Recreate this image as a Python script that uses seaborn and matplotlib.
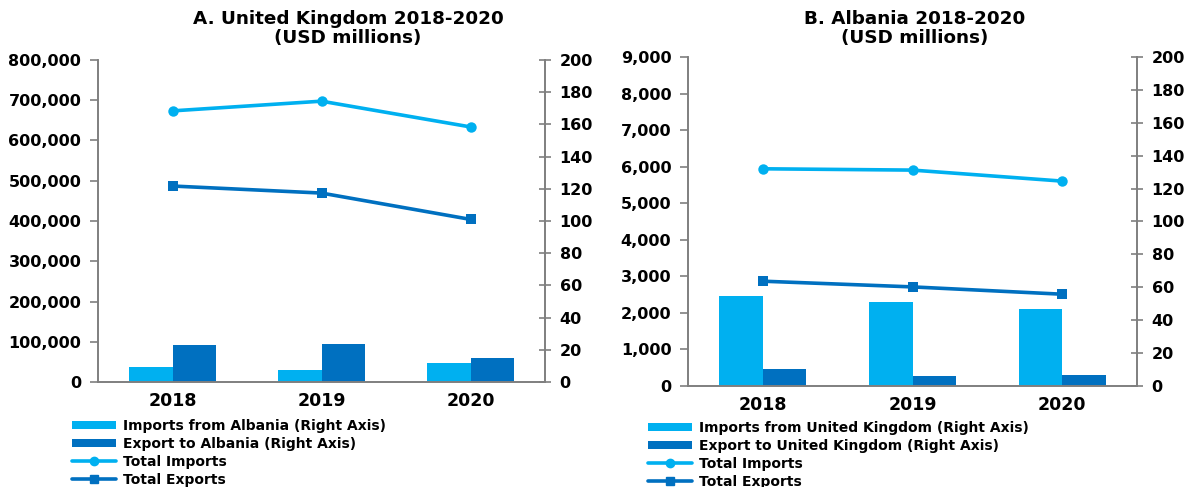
import numpy as np
import pandas as pd
import matplotlib
matplotlib.use("Agg")
import matplotlib.pyplot as plt
from matplotlib.patches import Patch
from matplotlib.lines import Line2D
from matplotlib.ticker import FuncFormatter, MultipleLocator
import seaborn as sns

years = ["2018", "2019", "2020"]

# Panel A: United Kingdom
uk_total_imports = [673600, 697700, 633700]
uk_total_exports = [486900, 469400, 404000]
uk_imports_from_albania = [9.1, 7.7, 11.8]
uk_exports_to_albania = [23.2, 23.7, 15.1]

# Panel B: Albania
al_total_imports = [5942, 5906, 5605]
al_total_exports = [2867, 2711, 2511]
al_imports_from_uk = [54.6, 50.9, 47.1]
al_exports_to_uk = [10.6, 6.3, 6.5]

LIGHT = "#00B0F0"
DARK = "#0070C0"
AXIS_GREY = "#7f7f7f"

sns.set_theme(style="white")
plt.rcParams["font.family"] = ["DejaVu Sans"]
plt.rcParams["font.weight"] = "bold"
plt.rcParams["text.color"] = "black"
plt.rcParams["xtick.color"] = "black"
plt.rcParams["ytick.color"] = "black"

fig = plt.figure(figsize=(11.9, 4.87), dpi=100)


def panel(rect, title, title_x, left_max, left_step, tot_imp, tot_exp,
          bar_imp, bar_exp, imp_label, exp_label, legend_x, legend_top):
    ax = fig.add_axes(rect)
    ax2 = ax.twinx()

    bars = pd.DataFrame({
        "Year": years * 2,
        "Value": bar_imp + bar_exp,
        "Series": [imp_label] * 3 + [exp_label] * 3,
    })
    sns.barplot(data=bars, x="Year", y="Value", hue="Series",
                hue_order=[imp_label, exp_label],
                palette={imp_label: LIGHT, exp_label: DARK},
                width=0.58, saturation=1, legend=False, ax=ax2,
                edgecolor="none")

    pos = np.arange(len(years))
    lines = pd.DataFrame({
        "pos": np.concatenate([pos, pos]),
        "Value": tot_imp + tot_exp,
        "Series": ["Total Imports"] * 3 + ["Total Exports"] * 3,
    })
    sns.lineplot(data=lines, x="pos", y="Value", hue="Series",
                 hue_order=["Total Imports", "Total Exports"],
                 palette={"Total Imports": LIGHT, "Total Exports": DARK},
                 style="Series",
                 markers={"Total Imports": "o", "Total Exports": "s"},
                 dashes=False, linewidth=2.6, markersize=7.5,
                 markeredgewidth=0, legend=False, ax=ax)

    ax.set_zorder(ax2.get_zorder() + 1)
    ax.patch.set_visible(False)

    ax.set_ylim(0, left_max)
    ax.yaxis.set_major_locator(MultipleLocator(left_step))
    ax.yaxis.set_major_formatter(FuncFormatter(lambda v, p: f"{int(v):,}"))
    ax2.set_ylim(0, 200)
    ax2.yaxis.set_major_locator(MultipleLocator(20))

    for a in (ax, ax2):
        a.set_xlim(-0.5, len(years) - 0.5)
        a.set_xlabel("")
        a.set_ylabel("")
        a.grid(False)
        for s in a.spines.values():
            s.set_color(AXIS_GREY)
            s.set_linewidth(1.2)
        a.spines["top"].set_visible(False)

    ax.set_xticks(np.arange(-0.5, len(years)), labels=[""] * (len(years) + 1))
    ax.set_xticks(pos, labels=years, minor=True)
    ax.tick_params(axis="x", which="major", direction="inout", length=9,
                   width=1.2, color=AXIS_GREY)
    ax.tick_params(axis="x", which="minor", length=0, pad=7, labelsize=12.5)
    ax.tick_params(axis="y", direction="out", length=6, width=1.2,
                   color=AXIS_GREY, labelsize=11.5, pad=6, left=True)
    ax2.tick_params(axis="y", direction="inout", length=9, width=1.2,
                    color=AXIS_GREY, labelsize=11.5, pad=6, right=True)
    ax2.tick_params(axis="x", length=0)
    for lbl in ax.get_xticklabels(minor=True) + ax.get_yticklabels() + ax2.get_yticklabels():
        lbl.set_fontweight("bold")

    fig.text(title_x, 1 - 10 / 487, title, ha="center", va="top",
             fontsize=13.2, fontweight="bold", linespacing=1.05)

    handles = [
        Patch(facecolor=LIGHT, edgecolor="none", label=imp_label),
        Patch(facecolor=DARK, edgecolor="none", label=exp_label),
        Line2D([], [], color=LIGHT, lw=2.6, marker="o", markersize=6,
               label="Total Imports"),
        Line2D([], [], color=DARK, lw=2.6, marker="s", markersize=6,
               label="Total Exports"),
    ]
    fig.legend(handles=handles, loc="upper left",
               bbox_to_anchor=(legend_x, 1 - legend_top / 487), frameon=False,
               prop={"weight": "bold", "size": 10}, handlelength=3.2,
               handleheight=0.55, handletextpad=0.45, labelspacing=0.28,
               borderpad=0, borderaxespad=0)


panel([98 / 1190, 1 - 382 / 487, 447 / 1190, 322 / 487],
      "A. United Kingdom 2018-2020\n(USD millions)", 348 / 1190,
      800000, 100000, uk_total_imports, uk_total_exports,
      uk_imports_from_albania, uk_exports_to_albania,
      "Imports from Albania (Right Axis)", "Export to Albania (Right Axis)",
      72 / 1190, 419)

panel([688 / 1190, 1 - 386 / 487, 449 / 1190, 329 / 487],
      "B. Albania 2018-2020\n(USD millions)", 915 / 1190,
      9000, 1000, al_total_imports, al_total_exports,
      al_imports_from_uk, al_exports_to_uk,
      "Imports from United Kingdom (Right Axis)",
      "Export to United Kingdom (Right Axis)",
      648 / 1190, 421)

fig.savefig("out.png", dpi=100)
